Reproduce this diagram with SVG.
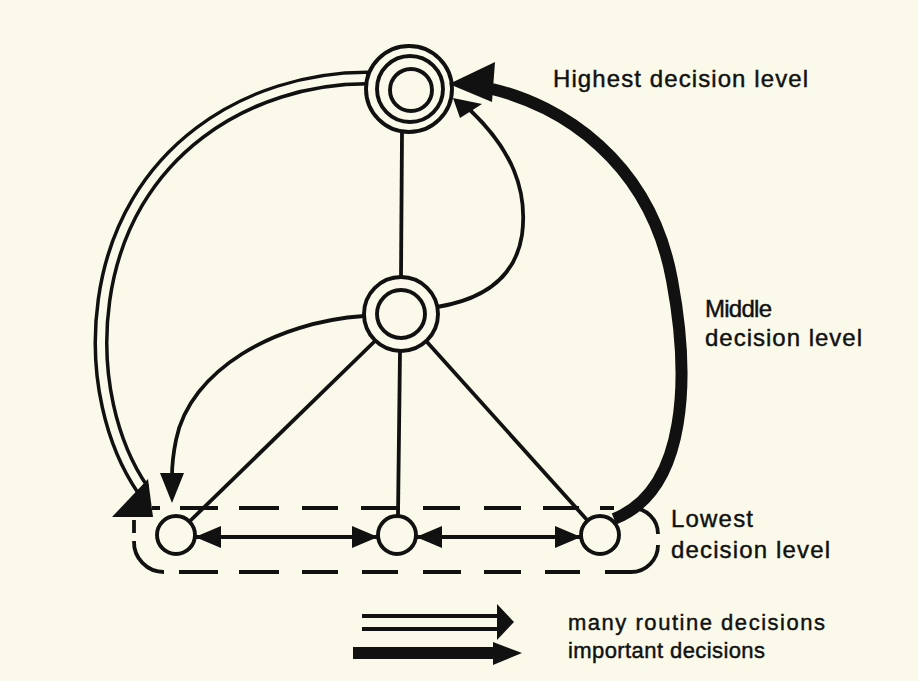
<svg xmlns="http://www.w3.org/2000/svg" width="918" height="681" viewBox="0 0 918 681">
<style>
.bg{fill:#fbfaea}
.ln{fill:none;stroke:#111;stroke-width:3.8}
.dash{fill:none;stroke:#111;stroke-width:3.8;stroke-linecap:butt}
.ring{fill:none;stroke:#111;stroke-width:3.9}
.hd{fill:#111;stroke:none}
.lbl{font-family:"Liberation Sans",Arial,Helvetica,sans-serif;font-size:24px;fill:#111;stroke:#111;stroke-width:0.45}
.leg{font-size:22px}
</style>
<defs>
<marker id="ah" markerUnits="userSpaceOnUse" markerWidth="26" markerHeight="22" viewBox="0 0 26 22" refX="26" refY="11" orient="auto-start-reverse"><path d="M0,0 L26,11 L0,22 Z" fill="#111"/></marker>
</defs>
<rect class="bg" x="0" y="0" width="918" height="681"/>

<g id="lowest-level-boundary">
<path class="dash" d="M152 508 H160 M180 508 H218 M239 508 H279 M302 508 H338 M361 508 H398 M423 508 H460 M484 508 H521 M543 508 H579 M600 508 H614"/>
<path class="dash" d="M632 508 A 26 26 0 0 1 658 534"/>
<path class="dash" d="M658 545 A 27 27 0 0 1 631 572 H 605"/>
<path class="dash" d="M179 572 H218 M239 572 H279 M302 572 H338 M362 572 H398 M423 572 H461 M484 572 H521 M545 572 H580"/>
<path class="dash" d="M134 541 A 30 30 0 0 0 164 572"/>
<path class="dash" d="M134 520 V533"/>
</g>

<g id="connectors">
<!-- double line: top -> bottom-left (many routine decisions) -->
<path d="M 368 78 C 250 78, 125 150, 104 300 C 93.5 375, 112 445, 143 490" fill="none" stroke="#111" stroke-width="15"/>
<path d="M 366 78 C 250 78, 125 150, 104 300 C 93.5 375, 112 445, 143 490" fill="none" stroke="#fbfaea" stroke-width="8"/>
<polygon class="hd" points="112,517 148,479 153,517"/>
<!-- thick line: bottom-right -> top (important decisions) -->
<path d="M 492 89 C 560 105, 650 160, 672 280 C 690 376, 688 490, 614 519" fill="none" stroke="#111" stroke-width="12"/>
<polygon class="hd" points="449,84 495,62 492,102"/>
<!-- middle -> top -->
<path class="ln" d="M 437 307 C 480 300, 515 280, 522 235 C 528 190, 512 150, 470 110"/>
<polygon class="hd" points="453,98 460,118 482,104"/>
<!-- middle -> bottom-left -->
<path class="ln" d="M 364 316 C 275 322, 190 370, 176 440 C 173 455, 172 465, 172 476"/>
<polygon class="hd" points="172,503 160,473 184,473"/>
<!-- top - middle -->
<line class="ln" x1="402" y1="133" x2="401" y2="278"/>
<!-- middle - bottom nodes -->
<line class="ln" x1="375" y1="341" x2="189" y2="522" stroke-width="4.2"/>
<line class="ln" x1="400" y1="352" x2="398" y2="516"/>
<line class="ln" x1="427" y1="342" x2="588" y2="521" stroke-width="4.2"/>
<!-- bottom horizontal double-headed arrows -->
<line class="ln" x1="195" y1="537" x2="378" y2="537" marker-start="url(#ah)" marker-end="url(#ah)"/>
<line class="ln" x1="416" y1="537" x2="581" y2="537" marker-start="url(#ah)" marker-end="url(#ah)"/>
</g>

<g id="node-top">
<circle class="ring" cx="409" cy="89" r="43"/>
<circle class="ring" cx="410" cy="89" r="33"/>
<circle class="ring" cx="411" cy="90" r="21"/>
</g>
<g id="node-middle">
<circle class="ring" cx="401" cy="314" r="37"/>
<circle class="ring" cx="401" cy="314" r="24"/>
</g>
<g id="node-low-left"><circle class="ring" cx="176" cy="535" r="19"/></g>
<g id="node-low-mid"><circle class="ring" cx="397" cy="535" r="19"/></g>
<g id="node-low-right"><circle class="ring" cx="600" cy="535" r="19"/></g>

<g id="labels">
<text class="lbl" x="553" y="87" textLength="255">Highest decision level</text>
<text class="lbl" x="705" y="317" textLength="67">Middle</text>
<text class="lbl" x="705" y="346" textLength="157">decision level</text>
<text class="lbl" x="671" y="527" textLength="82">Lowest</text>
<text class="lbl" x="671" y="558" textLength="159">decision level</text>
</g>

<g id="legend">
<line class="ln" x1="362" y1="616" x2="499" y2="616"/>
<line class="ln" x1="362" y1="629" x2="499" y2="629"/>
<polygon class="hd" points="497,604 514,622 497,640"/>
<rect class="hd" x="353" y="647" width="142" height="12"/>
<polygon class="hd" points="493,642 522,653 493,665"/>
<text class="lbl leg" x="568" y="630" textLength="257">many routine decisions</text>
<text class="lbl leg" x="568" y="658" textLength="197">important decisions</text>
</g>
</svg>
